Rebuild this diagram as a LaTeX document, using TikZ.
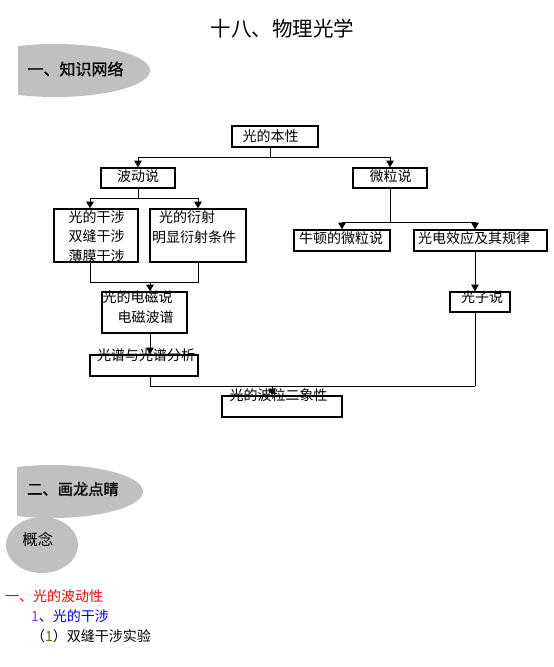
\documentclass[tikz,border=0pt]{standalone}
\usepackage{fontspec}
\setmainfont{Noto Sans CJK SC}
\newfontfamily\cjkbold{Noto Sans CJK SC}[FakeBold=0.8]
\usetikzlibrary{arrows.meta}
\definecolor{bannergray}{HTML}{C0C0C0}
\definecolor{numviolet}{HTML}{7A3CF0}
\definecolor{numbrown}{HTML}{8B5A10}
\tikzset{
  boxnode/.style={draw, line width=1.6pt, inner sep=0pt},
  txt/.style={inner sep=0pt, font=\fontsize{14}{19.5}\selectfont},
  conn/.style={line width=0.8pt},
  arr/.style={conn, -{Triangle[width=7.5pt,length=6.5pt]}},
  bannertxt/.style={inner sep=0pt},
}
\begin{document}
\begin{tikzpicture}[x=1pt,y=-1pt]
\useasboundingbox (0,0) rectangle (554,667);

% title
\node[inner sep=0pt, font=\fontsize{20.5}{24}\selectfont] (title) at (282.5,28.5) {十八、物理光学};

% banner 1
\begin{scope}
  \clip (18,40) rectangle (200,100);
  \fill[bannergray] (55,70.5) ellipse [x radius=95pt, y radius=26.5pt];
\end{scope}
\node[bannertxt, font=\fontsize{16}{18}\cjkbold] (ban1) at (75.5,69) {一、知识网络};

% boxes
\node[boxnode, minimum width=86pt, minimum height=21pt] (benxing) at (275,136.5) {};
\node[boxnode, minimum width=74pt, minimum height=20pt] (bodong) at (138,178) {};
\node[boxnode, minimum width=74pt, minimum height=20pt] (weili) at (390,178) {};
\node[boxnode, minimum width=84pt, minimum height=53pt] (ganshe) at (96,235.5) {};
\node[boxnode, minimum width=96pt, minimum height=53pt] (yanshe) at (198,235.5) {};
\node[boxnode, minimum width=85pt, minimum height=41pt] (dianci) at (144.5,312.5) {};
\node[boxnode, minimum width=108pt, minimum height=21pt] (guangpu) at (144,365.5) {};
\node[boxnode, minimum width=120pt, minimum height=21pt] (boli) at (282,406.5) {};
\node[boxnode, minimum width=96pt, minimum height=21pt] (niudun) at (342,240.5) {};
\node[boxnode, minimum width=133pt, minimum height=21pt] (guangdian) at (480.5,240.5) {};
\node[boxnode, minimum width=60pt, minimum height=20pt] (guangzi) at (480,302) {};

% box texts
\node[txt] (benxing-t) at (270.5,136) {光的本性};
\node[txt] (bodong-t) at (138,176.5) {波动说};
\node[txt] (weili-t) at (390.5,176.5) {微粒说};
\node[txt, align=center] (ganshe-t) at (96.5,236.5) {光的干涉\\双缝干涉\\薄膜干涉};
\node[txt, anchor=west] (yanshe-t1) at (159,217) {光的衍射};
\node[txt, anchor=west] (yanshe-t2) at (152,237) {明显衍射条件};
\node[txt, anchor=west] (dianci-t1) at (102.5,297.5) {光的电磁说};
\node[txt, anchor=west] (dianci-t2) at (117.5,317.5) {电磁波谱};
\node[txt] (guangpu-t) at (146,355) {光谱与光谱分析};
\node[txt] (boli-t) at (278.5,395.5) {光的波粒二象性};
\node[txt] (niudun-t) at (341,238) {牛顿的微粒说};
\node[txt] (guangdian-t) at (474,238) {光电效应及其规律};
\node[txt] (guangzi-t) at (482,297) {光子说};

% junction coordinates
\coordinate (j1) at (270,157);
\coordinate (j2) at (138,198);
\coordinate (j2l) at (90,198);
\coordinate (j3) at (150,282);
\coordinate (j4) at (150,386);
\coordinate (j5) at (272,386);
\coordinate (j6) at (475,386);
\coordinate (j7) at (390,222);

% connectors
\draw[conn] (benxing.south -| j1) -- (j1);
\draw[arr] (j1) -| (bodong.north);
\draw[arr] (j1) -| (weili.north);

\draw[conn] (bodong.south) -- (j2);
\draw[arr] (j2) -| (ganshe.north -| j2l);
\draw[arr] (j2) -| (yanshe.north);

\draw[conn] (ganshe.south -| j2l) |- (j3);
\draw[conn] (yanshe.south) |- (j3);
\draw[arr] (j3) -- (dianci.north -| j3);
\draw[arr] (dianci.south -| j3) -- (guangpu.north -| j3);

\draw[conn] (guangpu.south -| j4) -- (j4) -- (j6);
\draw[arr] (j5) -- (boli.north -| j5);

\draw[conn] (weili.south) -- (j7);
\draw[arr] (j7) -| (niudun.north);
\draw[arr] (j7) -| (guangdian.north -| j6);
\draw[arr] (guangdian.south -| j6) -- (guangzi.north -| j6);
\draw[conn] (guangzi.south -| j6) -- (j6);

% banner 2
\begin{scope}
  \clip (17,460) rectangle (200,520);
  \fill[bannergray] (52,491.5) ellipse [x radius=91pt, y radius=26.5pt];
\end{scope}
\node[bannertxt, font=\fontsize{15.3}{18}\cjkbold] (ban2) at (73,489) {二、画龙点睛};

% concept ellipse
\fill[bannergray] (42,545) ellipse [x radius=36pt, y radius=28pt];
\node[bannertxt, font=\fontsize{15.5}{18}\selectfont] (gainian) at (38,539) {概念};

% body text
\node[txt, anchor=west, text=red] (h1) at (5,596) {一、光的波动性};
\node[txt, anchor=west, text=blue] (h2) at (31,616) {\textcolor{numviolet}{1}、光的干涉};
\node[txt, anchor=west] (h3) at (31,636) {（\textcolor{numbrown}{1}）双缝干涉实验};
\end{tikzpicture}
\end{document}
